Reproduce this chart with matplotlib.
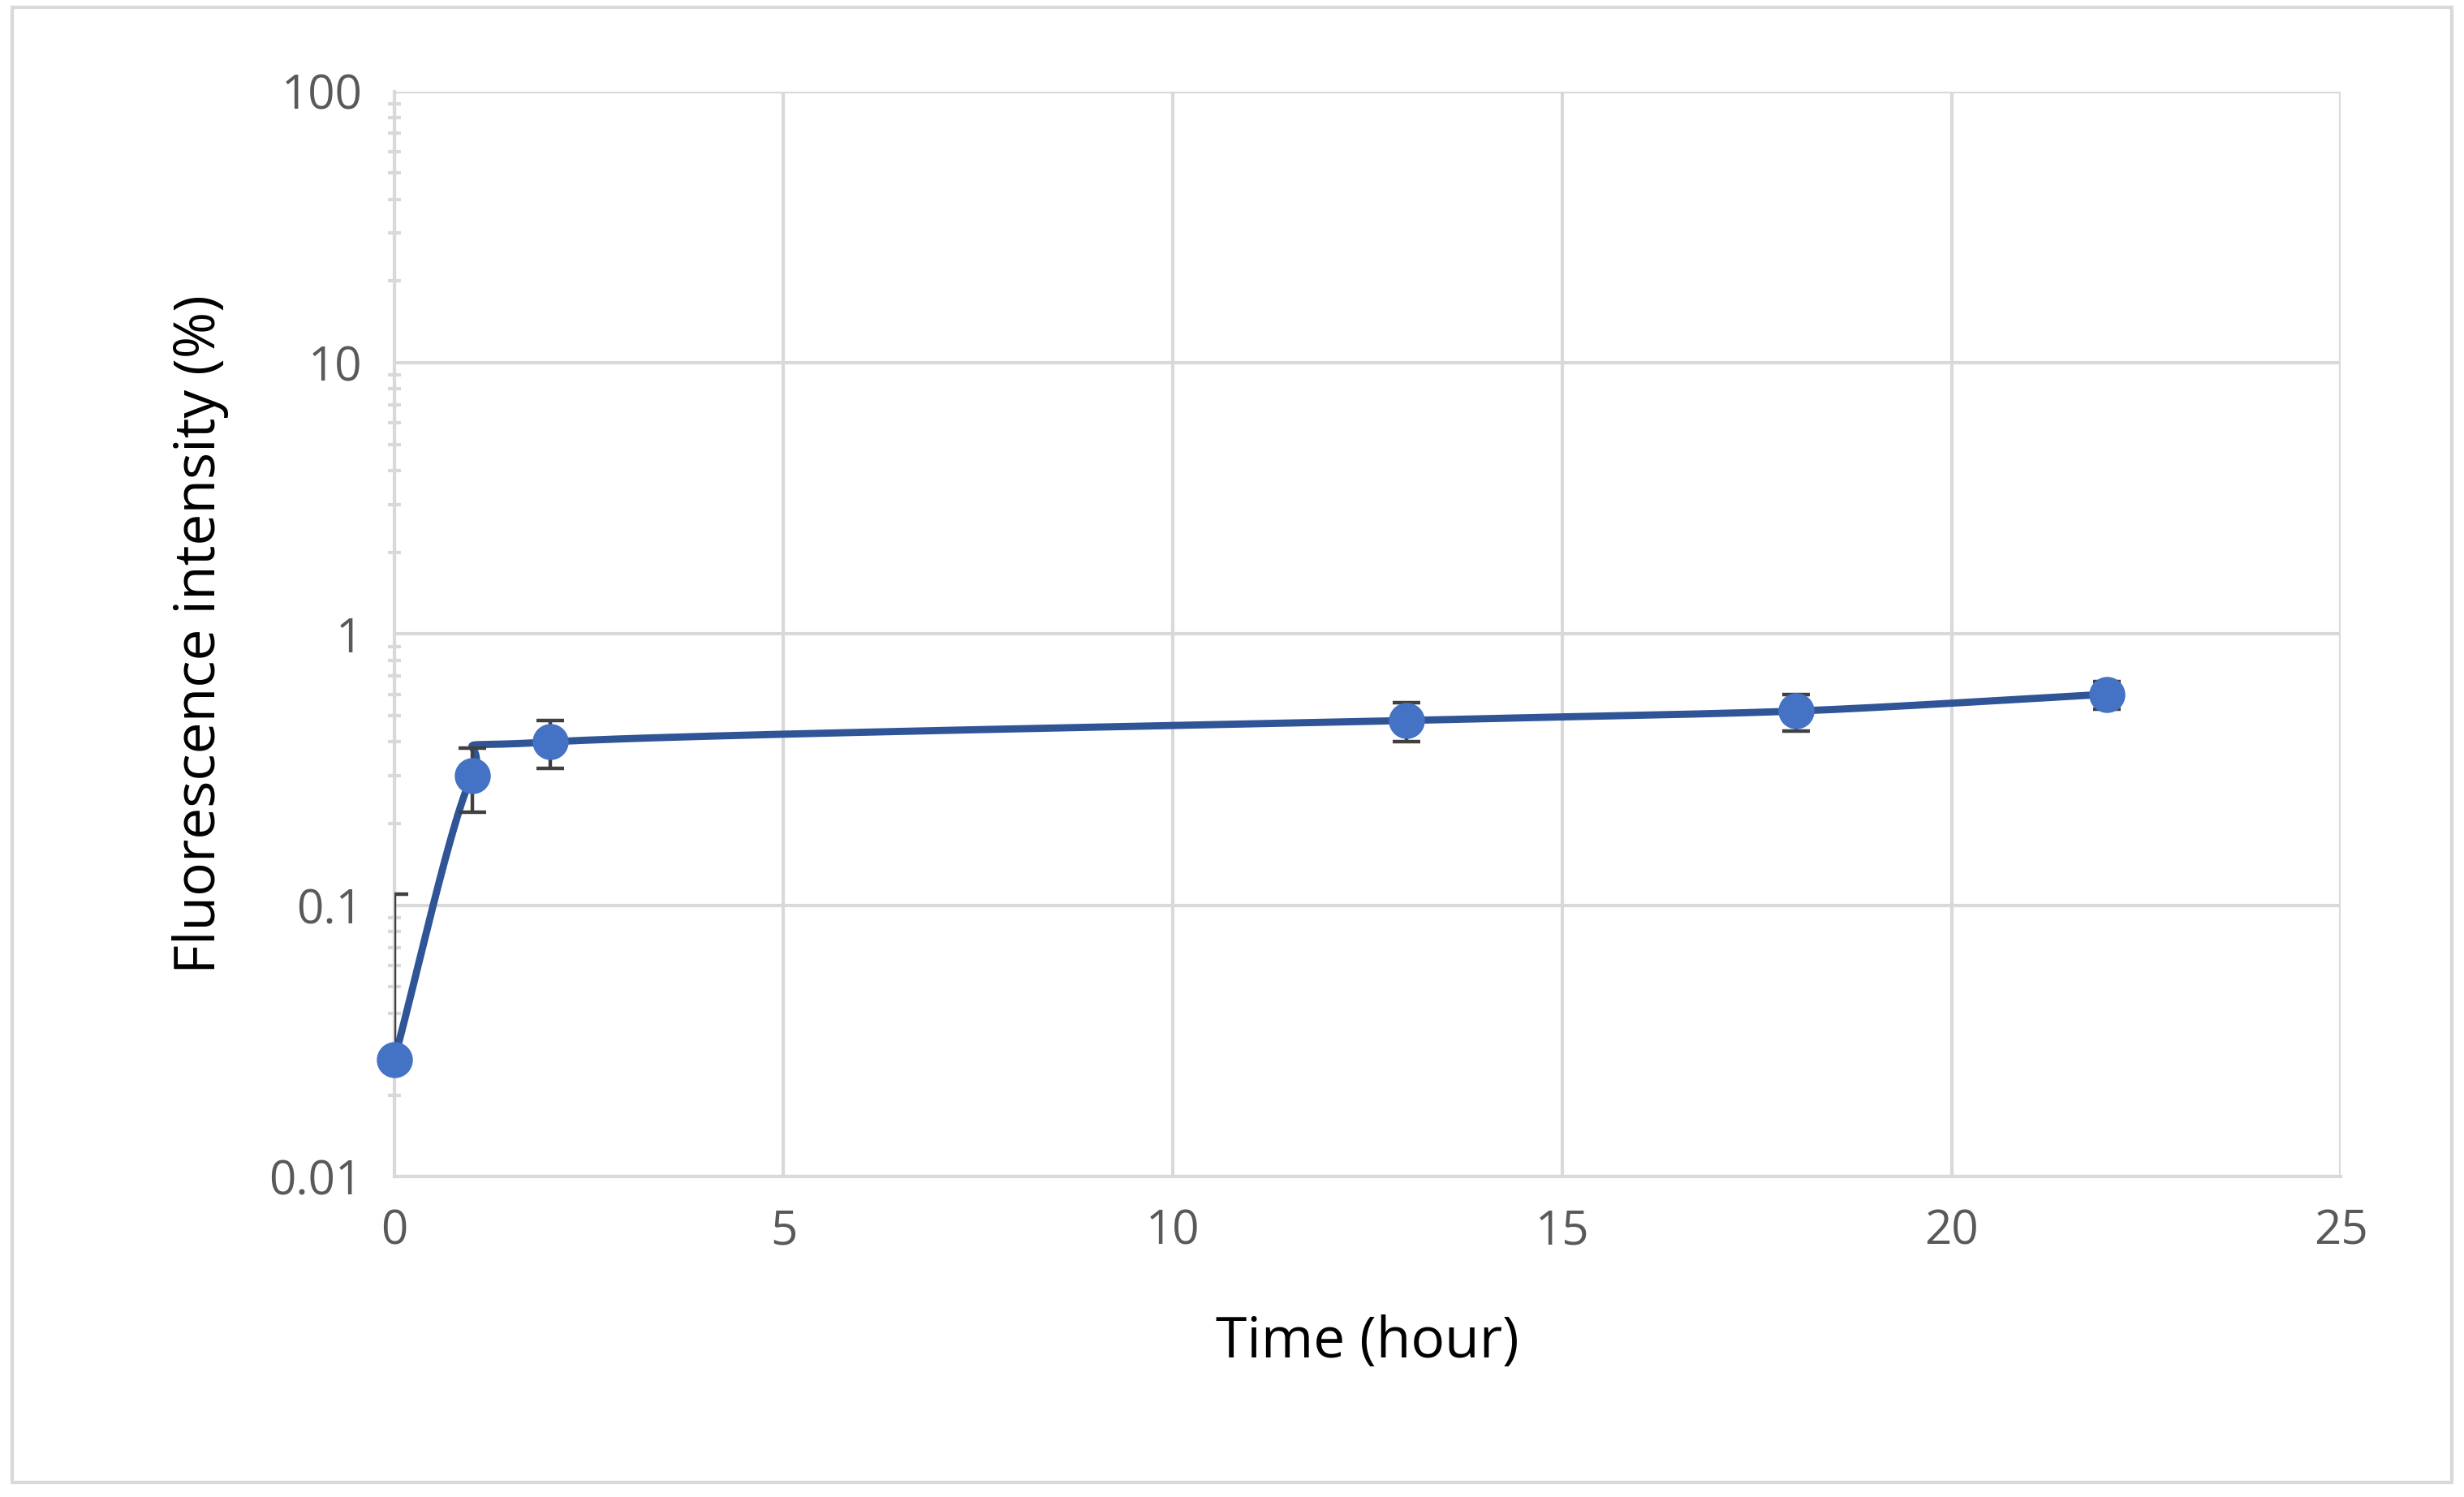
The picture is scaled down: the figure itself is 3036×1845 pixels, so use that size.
import numpy as np
import matplotlib
matplotlib.use("Agg")
import matplotlib.pyplot as plt
from matplotlib.patches import Rectangle

time_h = [0, 1, 2, 13, 18, 22]
intensity = [0.027, 0.30, 0.40, 0.48, 0.52, 0.60]
err_low = [0.0, 0.08, 0.08, 0.08, 0.08, 0.07]
err_high = [0.083, 0.08, 0.08, 0.08, 0.08, 0.07]
xticks = [0, 5, 10, 15, 20, 25]
yticks = [0.01, 0.1, 1, 10, 100]
ylabels = ["0.01", "0.1", "1", "10", "100"]

plt.rcParams['font.family'] = ['Open Sans', 'DejaVu Sans']
fig = plt.figure(figsize=(15.18, 9.225), dpi=200)
ax = fig.add_axes([0.160, 0.214, 0.790, 0.725])

# smooth curve in (x, log y)
x = np.array(time_h, float); ly = np.log10(intensity)
px = np.concatenate([[2*x[0]-x[1]], x, [2*x[-1]-x[-2]]])
py = np.concatenate([[2*ly[0]-ly[1]], ly, [2*ly[-1]-ly[-2]]])
cx, cy = [], []
for i in range(1, len(px)-2):
    t = np.linspace(0, 1, 80)
    for P, out in ((px, cx), (py, cy)):
        p0, p1, p2, p3 = P[i-1], P[i], P[i+1], P[i+2]
        m1 = (p2 - p0) / 2 * 0.8; m2 = (p3 - p1) / 2 * 0.8
        h00 = 2*t**3-3*t**2+1; h10 = t**3-2*t**2+t; h01 = -2*t**3+3*t**2; h11 = t**3-t**2
        out.extend(h00*p1 + h10*m1 + h01*p2 + h11*m2)
ax.plot(cx, 10**np.array(cy), color='#2F5597', lw=3.2, zorder=3, clip_on=False)

ax.errorbar(time_h, intensity, yerr=[err_low, err_high], fmt='none',
            ecolor='#404040', elinewidth=1.6, capsize=6, capthick=1.6, zorder=4)
ax.plot(time_h, intensity, 'o', ms=15, color='#4472C4', zorder=5, clip_on=False)

ax.set_yscale('log')
ax.set_xlim(0, 25); ax.set_ylim(0.01, 100)
ax.set_xticks(xticks)
ax.set_yticks(yticks); ax.set_yticklabels(ylabels)
ax.grid(True, which='major', color='#D9D9D9', lw=1.5)
ax.set_axisbelow(True)
for s in ['top', 'right']:
    ax.spines[s].set_visible(False)
for s in ['left', 'bottom']:
    ax.spines[s].set_color('#D9D9D9'); ax.spines[s].set_linewidth(1.5)
ax.tick_params(axis='both', which='major', length=0, labelsize=21, colors='#595959', pad=14)
ax.tick_params(axis='y', which='minor', length=6, color='#D9D9D9', width=1.5, direction='inout')
ax.tick_params(axis='y', which='minor', labelleft=False)
ax.set_xlabel('Time (hour)', fontsize=25, labelpad=26)
ax.set_ylabel('Fluorescence intensity (%)', fontsize=25, labelpad=18)

fig.patches.append(Rectangle((0.005, 0.01), 0.99, 0.985, transform=fig.transFigure,
                             fill=False, edgecolor='#D9D9D9', lw=1.5))
fig.savefig('out.png', dpi=200)
